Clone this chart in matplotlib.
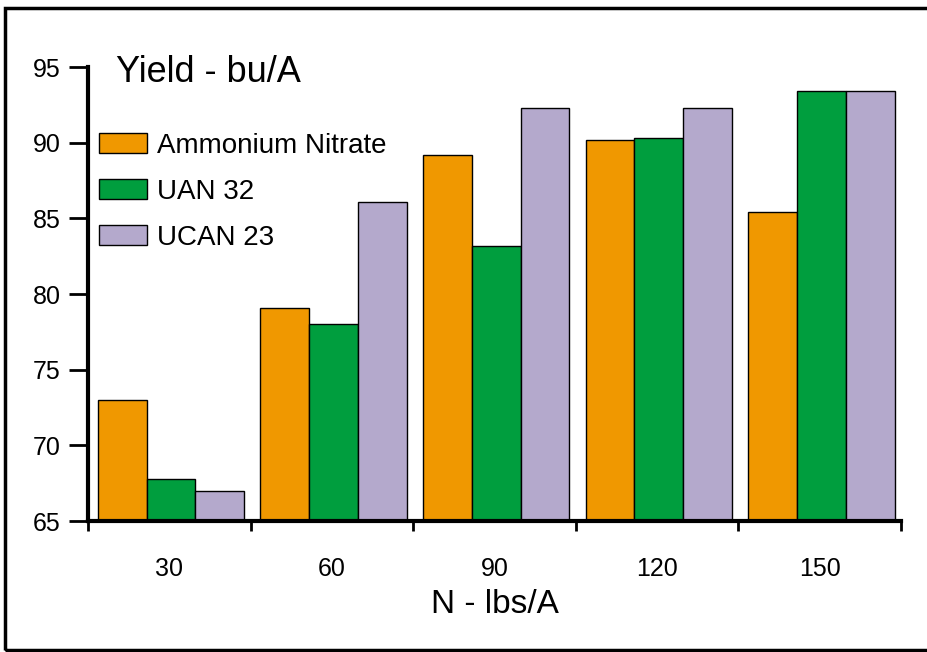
import numpy as np
import matplotlib
matplotlib.use('Agg')
import matplotlib.pyplot as plt
from matplotlib.patches import Rectangle, Patch

# data
rates = ['30', '60', '90', '120', '150']
ammonium_nitrate = [73.0, 79.1, 89.2, 90.2, 85.4]
uan_32 = [67.8, 78.0, 83.2, 90.3, 93.4]
ucan_23 = [67.0, 86.1, 92.3, 92.3, 93.4]
series_names = ['Ammonium Nitrate', 'UAN 32', 'UCAN 23']
colors = ['#F09800', '#009E3E', '#B4A9CC']

plt.rcParams['font.family'] = ['Liberation Sans', 'DejaVu Sans']

fig = plt.figure(figsize=(9.28, 6.52), dpi=100)
ax = fig.add_axes([0.0948, 0.2009, 0.8762, 0.6963])

# outer frame
fig.patches.append(Rectangle((5/928, 2/652), 1.1, 0.985, transform=fig.transFigure,
                             fill=False, edgecolor='black', linewidth=2.5))

x = np.arange(len(rates))
w = 0.30
for k, vals in enumerate([ammonium_nitrate, uan_32, ucan_23]):
    ax.bar(x + 0.06 + k*w, np.array(vals) - 65, width=w, bottom=65, align='edge',
           color=colors[k], edgecolor='black', linewidth=1.0)

ax.set_xlim(0, 5)
ax.set_ylim(65, 95)
ax.set_yticks([65, 70, 75, 80, 85, 90, 95])
ax.set_xticks(np.arange(6))
ax.set_xticklabels([])
ax.set_xticks(x + 0.5, minor=True)
ax.set_xticklabels(rates, minor=True, fontsize=18)
ax.tick_params(axis='x', which='minor', length=0, pad=26)
ax.tick_params(axis='x', which='major', direction='out', length=7.5, width=2)
ax.tick_params(axis='y', direction='out', length=14, width=2, labelsize=18, pad=5.5)

for s in ['top', 'right']:
    ax.spines[s].set_visible(False)
ax.spines['left'].set_linewidth(3)
ax.spines['bottom'].set_linewidth(3)

ax.text(0.17, 94.0, 'Yield - bu/A', fontsize=26, va='baseline', ha='left')
ax.set_xlabel('N - lbs/A', fontsize=24, labelpad=6)

handles = [Patch(facecolor=c, edgecolor='black', linewidth=1.0) for c in colors]
ax.legend(handles, series_names, loc='upper left', bbox_to_anchor=(0.0135, 0.855),
          frameon=False, fontsize=20, handlelength=1.73, handleheight=0.72,
          handletextpad=0.36, labelspacing=0.72, borderaxespad=0, borderpad=0)

fig.savefig('out.png', dpi=100)
